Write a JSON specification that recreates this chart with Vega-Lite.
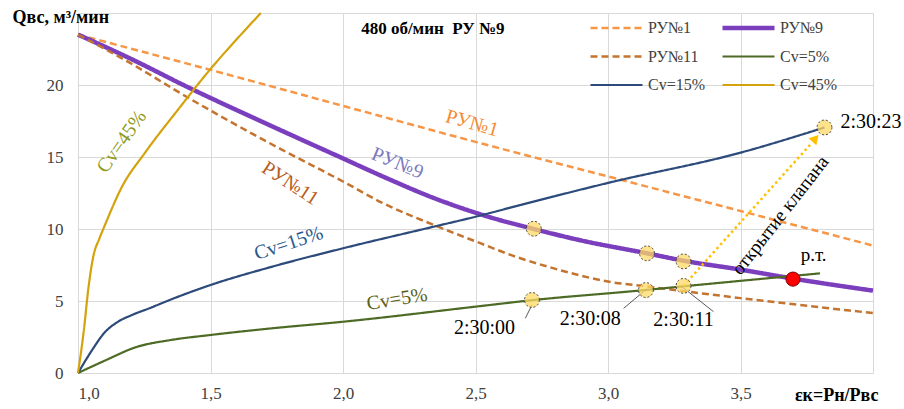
{
  "$schema": "https://vega.github.io/schema/vega-lite/v6.json",
  "width": 795,
  "height": 360,
  "autosize": {"type": "none"},
  "padding": {"left": 78, "top": 13, "right": 31, "bottom": 36},
  "background": "white",
  "config": {
    "view": {"stroke": null},
    "font": "Liberation Serif",
    "axis": {"gridColor": "#D9D9D9", "domainColor": "#D9D9D9", "ticks": false, "labelFont": "Liberation Serif", "labelFontSize": 17, "labelColor": "#404040", "titleFont": "Liberation Serif", "titleColor": "#000000", "titleFontWeight": "bold", "titleFontSize": 18},
    "legend": {"orient": "none", "legendX": 510, "legendY": 5, "columns": 2, "direction": "horizontal", "labelFontSize": 16, "labelFont": "Liberation Serif", "labelColor": "#404040", "symbolType": "stroke", "symbolSize": 2704, "clipHeight": 20, "columnPadding": 14, "rowPadding": 8.5, "labelOffset": 3, "padding": 0}
  },
  "datasets": {
    "curves": [
      {"s": "РУ№1", "x": 1, "y": 23.5}, {"s": "РУ№1", "x": 1.5, "y": 21.05}, {"s": "РУ№1", "x": 2, "y": 18.55}, {"s": "РУ№1", "x": 2.5, "y": 16.05}, {"s": "РУ№1", "x": 3, "y": 13.65}, {"s": "РУ№1", "x": 3.5, "y": 11.25}, {"s": "РУ№1", "x": 4, "y": 8.85},
      {"s": "РУ№9", "x": 1, "y": 23.5}, {"s": "РУ№9", "x": 1.19, "y": 21.9}, {"s": "РУ№9", "x": 1.42, "y": 19.8}, {"s": "РУ№9", "x": 1.76, "y": 16.9}, {"s": "РУ№9", "x": 2, "y": 14.9}, {"s": "РУ№9", "x": 2.15, "y": 13.65}, {"s": "РУ№9", "x": 2.35, "y": 12.1}, {"s": "РУ№9", "x": 2.54, "y": 10.9}, {"s": "РУ№9", "x": 2.72, "y": 10.0}, {"s": "РУ№9", "x": 2.9, "y": 9.2}, {"s": "РУ№9", "x": 3.15, "y": 8.3}, {"s": "РУ№9", "x": 3.285, "y": 7.8}, {"s": "РУ№9", "x": 3.5, "y": 7.18}, {"s": "РУ№9", "x": 3.7, "y": 6.55}, {"s": "РУ№9", "x": 4, "y": 5.72},
      {"s": "РУ№11", "x": 1, "y": 23.5}, {"s": "РУ№11", "x": 1.19, "y": 21.6}, {"s": "РУ№11", "x": 1.42, "y": 19.07}, {"s": "РУ№11", "x": 1.59, "y": 17.3}, {"s": "РУ№11", "x": 1.76, "y": 15.6}, {"s": "РУ№11", "x": 2, "y": 13.3}, {"s": "РУ№11", "x": 2.15, "y": 11.8}, {"s": "РУ№11", "x": 2.34, "y": 10.3}, {"s": "РУ№11", "x": 2.52, "y": 9.0}, {"s": "РУ№11", "x": 2.64, "y": 8.15}, {"s": "РУ№11", "x": 2.77, "y": 7.4}, {"s": "РУ№11", "x": 2.9, "y": 6.75}, {"s": "РУ№11", "x": 3, "y": 6.35}, {"s": "РУ№11", "x": 3.15, "y": 6.0}, {"s": "РУ№11", "x": 3.5, "y": 5.2}, {"s": "РУ№11", "x": 4, "y": 4.16},
      {"s": "Cv=5%", "x": 1, "y": 0}, {"s": "Cv=5%", "x": 1.1, "y": 0.85}, {"s": "Cv=5%", "x": 1.22, "y": 1.8}, {"s": "Cv=5%", "x": 1.35, "y": 2.29}, {"s": "Cv=5%", "x": 1.5, "y": 2.64}, {"s": "Cv=5%", "x": 1.73, "y": 3.1}, {"s": "Cv=5%", "x": 2, "y": 3.56}, {"s": "Cv=5%", "x": 2.52, "y": 4.65}, {"s": "Cv=5%", "x": 2.72, "y": 5.07}, {"s": "Cv=5%", "x": 3.14, "y": 5.76}, {"s": "Cv=5%", "x": 3.285, "y": 6.02}, {"s": "Cv=5%", "x": 3.8, "y": 6.92},
      {"s": "Cv=15%", "x": 1, "y": 0}, {"s": "Cv=15%", "x": 1.05, "y": 1.5}, {"s": "Cv=15%", "x": 1.1, "y": 2.8}, {"s": "Cv=15%", "x": 1.15, "y": 3.55}, {"s": "Cv=15%", "x": 1.2, "y": 4.0}, {"s": "Cv=15%", "x": 1.27, "y": 4.5}, {"s": "Cv=15%", "x": 1.35, "y": 5.1}, {"s": "Cv=15%", "x": 1.5, "y": 6.11}, {"s": "Cv=15%", "x": 1.726, "y": 7.35}, {"s": "Cv=15%", "x": 2, "y": 8.66}, {"s": "Cv=15%", "x": 2.342, "y": 10.16}, {"s": "Cv=15%", "x": 2.5, "y": 10.85}, {"s": "Cv=15%", "x": 2.67, "y": 11.67}, {"s": "Cv=15%", "x": 3, "y": 13.2}, {"s": "Cv=15%", "x": 3.5, "y": 15.3}, {"s": "Cv=15%", "x": 3.817, "y": 17.05},
      {"s": "Cv=45%", "x": 1, "y": 0}, {"s": "Cv=45%", "x": 1.021, "y": 2.8}, {"s": "Cv=45%", "x": 1.04, "y": 6.0}, {"s": "Cv=45%", "x": 1.059, "y": 8.2}, {"s": "Cv=45%", "x": 1.08, "y": 9.3}, {"s": "Cv=45%", "x": 1.1, "y": 10.2}, {"s": "Cv=45%", "x": 1.165, "y": 12.9}, {"s": "Cv=45%", "x": 1.253, "y": 15.3}, {"s": "Cv=45%", "x": 1.378, "y": 18.3}, {"s": "Cv=45%", "x": 1.504, "y": 21.2}, {"s": "Cv=45%", "x": 1.6, "y": 23.2}, {"s": "Cv=45%", "x": 1.69, "y": 25}
    ],
    "markers": [
      {"x": 2.72, "y": 10.02}, {"x": 3.147, "y": 8.31}, {"x": 3.285, "y": 7.75},
      {"x": 2.713, "y": 5.07}, {"x": 3.143, "y": 5.76}, {"x": 3.285, "y": 6.05},
      {"x": 3.817, "y": 17.05}
    ],
    "leaders": [
      {"x": 2.713, "y": 4.72, "x2": 2.688, "y2": 3.8},
      {"x": 3.134, "y": 5.65, "x2": 3.059, "y2": 4.49},
      {"x": 3.279, "y": 5.99, "x2": 3.398, "y2": 4.26}
    ],
    "times": [
      {"x": 2.534, "y": 3.1, "t": "2:30:00"},
      {"x": 2.933, "y": 3.75, "t": "2:30:08"},
      {"x": 3.285, "y": 3.68, "t": "2:30:11"}
    ]
  },
  "encoding": {
    "x": {"field": "x", "type": "quantitative", "scale": {"domain": [1, 4], "nice": false, "zero": false},
      "axis": {"values": [1, 1.5, 2, 2.5, 3, 3.5, 4], "labelExpr": "datum.value == 4 ? '' : replace(format(datum.value, '.1f'), '.', ',')", "labelPadding": 12, "title": "εк=Pн/Pвс", "titleX": 800, "titleY": 22, "titleAlign": "right", "titleBaseline": "middle", "titleAnchor": null}},
    "y": {"field": "y", "type": "quantitative", "scale": {"domain": [0, 25], "nice": false},
      "axis": {"values": [0, 5, 10, 15, 20, 25], "labelExpr": "datum.value == 25 ? '' : datum.value", "labelPadding": 15, "title": "Qвс, м³/мин", "titleAngle": 0, "titleX": -66, "titleY": 4, "titleAlign": "left", "titleBaseline": "middle", "titleAnchor": null}}
  },
  "layer": [
    {
      "data": {"name": "curves"},
      "mark": {"type": "line", "interpolate": "monotone"},
      "encoding": {
        "color": {"field": "s", "type": "nominal", "sort": null, "title": null,
          "scale": {"domain": ["РУ№1", "РУ№9", "РУ№11", "Cv=5%", "Cv=15%", "Cv=45%"], "range": ["#F79646", "#7B3FBE", "#C4742F", "#4E6B26", "#2C4A7A", "#D4A20C"]}},
        "strokeDash": {"field": "s", "type": "nominal", "sort": null, "title": null,
          "scale": {"domain": ["РУ№1", "РУ№9", "РУ№11", "Cv=5%", "Cv=15%", "Cv=45%"], "range": [[7, 4], [1, 0], [7, 4], [1, 0], [1, 0], [1, 0]]}},
        "strokeWidth": {"field": "s", "type": "nominal", "sort": null, "title": null,
          "scale": {"type": "ordinal", "domain": ["РУ№1", "РУ№9", "РУ№11", "Cv=5%", "Cv=15%", "Cv=45%"], "range": [2.5, 4.5, 2.5, 2.2, 2.2, 2.2]}}
      }
    },
    {
      "data": {"values": [{"x": 3.285, "y": 6.05, "x2": 3.77, "y2": 16.0}]},
      "mark": {"type": "rule", "color": "#FFC000", "strokeWidth": 2.5, "strokeDash": [2.5, 3]},
      "encoding": {"x2": {"field": "x2"}, "y2": {"field": "y2"}}
    },
    {
      "data": {"values": [{"x": 3.783, "y": 16.3}]},
      "mark": {"type": "point", "shape": "triangle-up", "angle": 42, "filled": true, "color": "#FFC000", "size": 110, "opacity": 1}
    },
    {
      "data": {"name": "leaders"},
      "mark": {"type": "rule", "color": "#595959", "strokeWidth": 1},
      "encoding": {"x2": {"field": "x2"}, "y2": {"field": "y2"}}
    },
    {
      "data": {"name": "markers"},
      "mark": {"type": "point", "shape": "circle", "filled": true, "fill": "#FFD966", "fillOpacity": 0.75, "stroke": "#404040", "strokeWidth": 1, "strokeDash": [2, 2], "strokeOpacity": 1, "size": 220}
    },
    {
      "data": {"values": [{"x": 3.698, "y": 6.52}]},
      "mark": {"type": "point", "shape": "circle", "filled": true, "fill": "#FF0000", "fillOpacity": 1, "stroke": "#7F0000", "strokeWidth": 1, "strokeOpacity": 1, "size": 200}
    },
    {
      "data": {"name": "times"},
      "mark": {"type": "text", "font": "Liberation Serif", "fontSize": 20, "color": "#000000", "align": "center", "baseline": "middle"},
      "encoding": {"text": {"field": "t"}}
    },
    {
      "data": {"values": [{"x": 3.877, "y": 17.45, "t": "2:30:23"}]},
      "mark": {"type": "text", "font": "Liberation Serif", "fontSize": 20, "color": "#000000", "align": "left", "baseline": "middle"},
      "encoding": {"text": {"field": "t"}}
    },
    {
      "data": {"values": [{"x": 3.776, "y": 8.19, "t": "р.т."}]},
      "mark": {"type": "text", "font": "Liberation Serif", "fontSize": 19, "color": "#000000", "align": "center", "baseline": "middle"},
      "encoding": {"text": {"field": "t"}}
    },
    {
      "data": {"values": [{"x": 3.65, "y": 10.95, "t": "открытие клапана"}]},
      "mark": {"type": "text", "font": "Liberation Serif", "fontSize": 19, "color": "#000000", "align": "center", "baseline": "middle", "angle": -52},
      "encoding": {"text": {"field": "t"}}
    },
    {
      "data": {"values": [{"x": 2.339, "y": 23.87, "t": "480 об/мин\u00a0\u00a0РУ №9"}]},
      "mark": {"type": "text", "font": "Liberation Serif", "fontSize": 17, "fontWeight": "bold", "color": "#000000", "align": "center", "baseline": "middle"},
      "encoding": {"text": {"field": "t"}}
    },
    {
      "data": {"values": [{"x": 2.487, "y": 17.34, "t": "РУ№1"}]},
      "mark": {"type": "text", "font": "Liberation Serif", "fontSize": 20, "color": "#F58B33", "align": "center", "baseline": "middle", "angle": 16},
      "encoding": {"text": {"field": "t"}}
    },
    {
      "data": {"values": [{"x": 2.206, "y": 14.56, "t": "РУ№9"}]},
      "mark": {"type": "text", "font": "Liberation Serif", "fontSize": 20, "color": "#7C78BE", "align": "center", "baseline": "middle", "angle": 22},
      "encoding": {"text": {"field": "t"}}
    },
    {
      "data": {"values": [{"x": 1.801, "y": 13.17, "t": "РУ№11"}]},
      "mark": {"type": "text", "font": "Liberation Serif", "fontSize": 20, "color": "#B85E24", "align": "center", "baseline": "middle", "angle": 33},
      "encoding": {"text": {"field": "t"}}
    },
    {
      "data": {"values": [{"x": 1.795, "y": 9.0, "t": "Cv=15%"}]},
      "mark": {"type": "text", "font": "Liberation Serif", "fontSize": 20, "color": "#2B5A8C", "align": "center", "baseline": "middle", "angle": -18},
      "encoding": {"text": {"field": "t"}}
    },
    {
      "data": {"values": [{"x": 2.204, "y": 5.12, "t": "Cv=5%"}]},
      "mark": {"type": "text", "font": "Liberation Serif", "fontSize": 20, "color": "#5C6117", "align": "center", "baseline": "middle", "angle": -9},
      "encoding": {"text": {"field": "t"}}
    },
    {
      "data": {"values": [{"x": 1.165, "y": 16.06, "t": "Cv=45%"}]},
      "mark": {"type": "text", "font": "Liberation Serif", "fontSize": 20, "color": "#8F9A1F", "align": "center", "baseline": "middle", "angle": -55},
      "encoding": {"text": {"field": "t"}}
    }
  ]
}
